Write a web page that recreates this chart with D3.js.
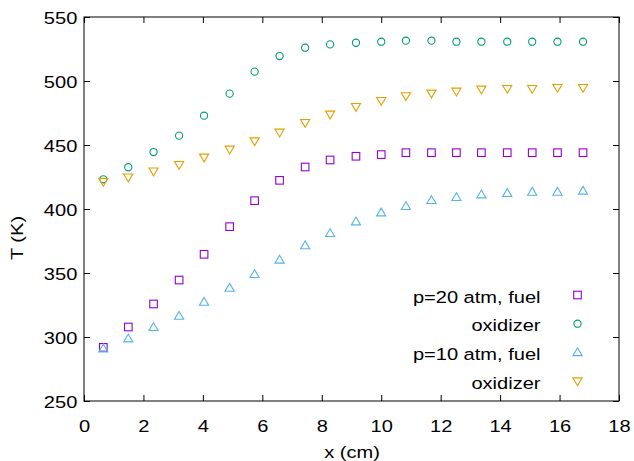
<!DOCTYPE html>
<html>
<head>
<meta charset="utf-8">
<script src="https://cdn.jsdelivr.net/npm/d3@7"></script>
<style>
  body { margin: 0; background: #fff; }
  text { font-family: "Liberation Sans", Arial, sans-serif; }
</style>
</head>
<body>
<div id="figure"></div>
<script>
// positions along the tube (cm)
var xs = [0.65, 1.49, 2.34, 3.2, 4.04, 4.9, 5.74, 6.58, 7.44, 8.28, 9.15, 10.0, 10.83, 11.69, 12.53, 13.37, 14.24, 15.08, 15.93, 16.79];

var fuel20 = [291.9, 307.8, 325.8, 344.5, 364.6, 386.2, 406.5, 422.4, 432.8, 438.3, 441.2, 442.5, 444.0, 444.0, 444.0, 444.0, 444.0, 444.0, 444.0, 444.0];
var oxid20 = [423.2, 432.6, 444.5, 457.3, 472.9, 490.1, 507.3, 519.5, 526.0, 528.6, 529.9, 530.7, 531.5, 531.5, 530.7, 530.7, 530.7, 530.7, 530.7, 530.7];
var fuel10 = [290.9, 298.7, 307.6, 316.4, 327.3, 338.3, 349.0, 360.2, 371.5, 381.0, 390.1, 397.1, 402.1, 406.8, 409.1, 411.2, 412.3, 413.3, 413.3, 414.1];
var oxid10 = [421.4, 424.8, 429.5, 434.6, 440.4, 446.6, 453.1, 459.9, 467.4, 474.0, 479.9, 484.6, 488.3, 490.4, 491.9, 493.5, 494.0, 494.0, 494.8, 494.8];

var xTicks = [0, 2, 4, 6, 8, 10, 12, 14, 16, 18];
var yTicks = [250, 300, 350, 400, 450, 500, 550];

var seriesNames = ["p=20 atm, fuel", "oxidizer", "p=10 atm, fuel", "oxidizer"];
var seriesColors = ["#9400d3", "#009e73", "#56b4e9", "#e69f00"];
var seriesShapes = ["square", "circle", "up", "down"];
var seriesData = [fuel20, oxid20, fuel10, oxid10];

const W = 634, H = 461;
const margin = {top: 17, right: 15, bottom: 60, left: 84};
const width = W - margin.left - margin.right,
      height = H - margin.top - margin.bottom;
const FS = 17, SX = 1.18;   // font size and horizontal stretch of the labels

const svg = d3.select("#figure")
  .append("svg")
  .attr("width", W)
  .attr("height", H);

const g = svg.append("g")
  .attr("transform", `translate(${margin.left},${margin.top})`);

const x = d3.scaleLinear().domain([0, 18]).range([0, width]);
const y = d3.scaleLinear().domain([250, 550]).range([height, 0]);

// axes with inward ticks, mirrored on top and right
const xb = g.append("g")
  .attr("transform", `translate(0,${height})`)
  .call(d3.axisBottom(x).tickValues(xTicks).tickSizeInner(-6).tickSizeOuter(0))
  .call(a => a.select(".domain").remove());
xb.selectAll(".tick text")
  .attr("y", 0).attr("dy", null).attr("text-anchor", "middle")
  .attr("transform", `translate(0,31.2) scale(${SX},1)`);

g.append("g")
  .call(d3.axisTop(x).tickValues(xTicks).tickSizeInner(-6).tickSizeOuter(0).tickFormat(""))
  .call(a => a.select(".domain").remove());

const yl = g.append("g")
  .call(d3.axisLeft(y).tickValues(yTicks).tickSizeInner(-6).tickSizeOuter(0))
  .call(a => a.select(".domain").remove());
yl.selectAll(".tick text")
  .attr("x", 0).attr("dy", "0.36em").attr("text-anchor", "end")
  .attr("transform", `translate(-6.7,0) scale(${SX},1)`);

g.append("g")
  .attr("transform", `translate(${width},0)`)
  .call(d3.axisRight(y).tickValues(yTicks).tickSizeInner(-6).tickSizeOuter(0).tickFormat(""))
  .call(a => a.select(".domain").remove());

g.selectAll(".tick line").attr("stroke", "#000").attr("stroke-width", 1);
g.selectAll(".tick text").attr("font-size", FS).attr("fill", "#000")
  .attr("font-family", "Liberation Sans, Arial, sans-serif");

// frame
g.append("rect")
  .attr("width", width).attr("height", height)
  .attr("fill", "none").attr("stroke", "#000").attr("stroke-width", 1);

// axis titles
svg.append("text")
  .attr("transform", `translate(352,457.5) scale(${SX},1)`)
  .attr("text-anchor", "middle").attr("font-size", FS)
  .text("x (cm)");
svg.append("text")
  .attr("transform", `translate(23,238) rotate(-90) scale(${SX},1)`)
  .attr("text-anchor", "middle").attr("font-size", FS)
  .text("T (K)");

function marker(sel, shape, color) {
  if (shape === "circle") {
    sel.append("circle").attr("r", 3.6);
  } else if (shape === "square") {
    sel.append("rect").attr("x", -3.8).attr("y", -3.8).attr("width", 7.6).attr("height", 7.6);
  } else if (shape === "up") {
    sel.append("path").attr("d", "M0,-4.6L4.6,3.2L-4.6,3.2Z");
  } else {
    sel.append("path").attr("d", "M0,4.6L4.6,-3.2L-4.6,-3.2Z");
  }
  sel.selectAll("*").attr("fill", "none").attr("stroke", color).attr("stroke-width", 1.1);
}

seriesData.forEach(function(vals, i) {
  const pts = g.append("g").selectAll("g")
    .data(vals.map((v, j) => ({x: xs[j], y: v})))
    .join("g")
    .attr("transform", d => `translate(${x(d.x)},${y(d.y)})`);
  pts.each(function() { marker(d3.select(this), seriesShapes[i], seriesColors[i]); });
});

// legend
const legend = svg.append("g");
seriesNames.forEach(function(name, i) {
  const yy = 295 + i * 28.7;
  legend.append("text")
    .attr("transform", `translate(540.5,${yy + 7.6}) scale(${SX},1)`)
    .attr("text-anchor", "end").attr("font-size", FS)
    .text(name);
  const m = legend.append("g").attr("transform", `translate(577.5,${yy})`);
  marker(m, seriesShapes[i], seriesColors[i]);
});
</script>
</body>
</html>
